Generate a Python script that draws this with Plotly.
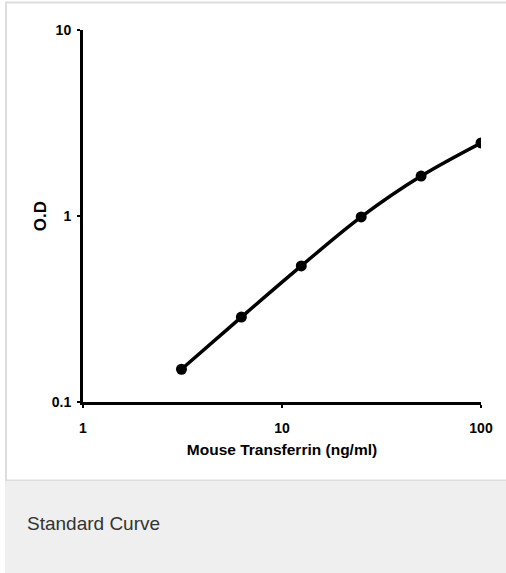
import plotly.graph_objects as go

concentration = [3.125, 6.25, 12.5, 25, 50, 100]
od_values = [0.150, 0.286, 0.539, 0.989, 1.64, 2.47]

x_tickvals = [1, 10, 100]
x_ticktext = ["1", "10", "100"]
y_tickvals = [0.1, 1, 10]
y_ticktext = ["0.1", "1", "10"]

x_title = "Mouse Transferrin (ng/ml)"
y_title = "O.D"
caption = "Standard Curve"

W, H = 506, 573
L, R, T, B = 83, 25, 30, 171
pw, ph = W - L - R, H - T - B

def px(x):
    return (x - L) / pw

def py(y):
    return (H - B - y) / ph

bold_font = "Liberation Sans, Arial, sans-serif"

fig = go.Figure()
fig.add_trace(go.Scatter(
    x=concentration, y=od_values, mode="lines+markers",
    line=dict(color="black", width=3.5, shape="spline"),
    marker=dict(color="black", size=11),
    showlegend=False,
))

axis_common = dict(
    type="log", showgrid=False, zeroline=False,
    showline=True, linecolor="black", linewidth=3,
    ticks="outside", ticklen=3, tickwidth=2, tickcolor="black",
    tickfont=dict(family=bold_font, size=14, color="black", weight="bold"),
)

fig.update_xaxes(
    **axis_common, range=[0, 2], tickvals=x_tickvals, ticktext=x_ticktext,
    ticklabelstandoff=8,
    title=dict(text=x_title, standoff=10,
               font=dict(family=bold_font, size=15.5, color="black", weight="bold")),
)
fig.update_yaxes(
    **axis_common, range=[-1, 1], tickvals=y_tickvals, ticktext=y_ticktext,
    ticklabelstandoff=3,
    title=dict(text=y_title, standoff=1,
               font=dict(family=bold_font, size=17, color="black", weight="bold")),
)

shapes = [
    dict(type="rect", xref="paper", yref="paper",
         x0=px(6), x1=px(508), y0=py(2.5), y1=py(480.5),
         line=dict(color="#dddddd", width=2), fillcolor="rgba(0,0,0,0)", layer="below"),
    dict(type="rect", xref="paper", yref="paper",
         x0=px(5), x1=px(507), y0=py(481), y1=py(574),
         line=dict(width=0), fillcolor="#eeefee", layer="below"),
]

fig.update_layout(
    width=W, height=H,
    margin=dict(l=L, r=R, t=T, b=B),
    paper_bgcolor="white", plot_bgcolor="white",
    shapes=shapes,
    annotations=[dict(
        text=caption, xref="paper", yref="paper",
        x=px(25), y=py(523), xanchor="left", yanchor="middle",
        showarrow=False,
        font=dict(family="Liberation Sans, Arial, sans-serif", size=19, color="#333333"),
    )],
)

fig.write_html(
    "out.html",
    config={"displayModeBar": False},
    post_script="document.body.style.margin='0';document.body.style.overflow='hidden';",
)
